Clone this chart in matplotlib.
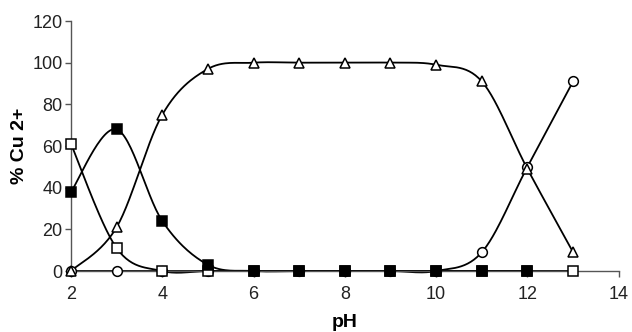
import numpy as np
import matplotlib
matplotlib.use("Agg")
import matplotlib.pyplot as plt

plt.rcParams['font.family'] = ['Liberation Sans', 'DejaVu Sans']

# pH values and % Cu2+ species
ph = [2, 3, 4, 5, 6, 7, 8, 9, 10, 11, 12, 13]
open_circle = [0, 0, 0, 0, 0, 0, 0, 0, 0, 9, 50, 91]
triangle = [0, 21, 75, 97, 100, 100, 100, 100, 99, 91, 49, 9]
open_square = [61, 11, 0, 0, 0, 0, 0, 0, 0, 0, 0, 0]
filled_square = [38, 68, 24, 3, 0, 0, 0, 0, 0, 0, 0]   # pH 2..12


def smooth(x, y, n=30):
    # Excel-style smoothed line (Catmull-Rom through the points)
    x = np.asarray(x, float)
    y = np.asarray(y, float)
    xs, ys = [], []
    for i in range(len(x) - 1):
        p0 = np.array([x[max(i - 1, 0)], y[max(i - 1, 0)]])
        p1 = np.array([x[i], y[i]])
        p2 = np.array([x[i + 1], y[i + 1]])
        p3 = np.array([x[min(i + 2, len(x) - 1)], y[min(i + 2, len(x) - 1)]])
        c1 = p1 + (p2 - p0) / 6
        c2 = p2 - (p3 - p1) / 6
        t = np.linspace(0, 1, n)[:, None]
        pts = ((1 - t) ** 3) * p1 + 3 * ((1 - t) ** 2) * t * c1 + 3 * (1 - t) * t ** 2 * c2 + t ** 3 * p2
        xs.extend(pts[:, 0])
        ys.extend(pts[:, 1])
    return xs, ys


fig = plt.figure(figsize=(6.32, 3.32), dpi=100)
ax = fig.add_axes([0.1123, 0.1837, 0.8667, 0.753])

series = [
    (ph, open_circle, 'o', 'white', 7),
    (ph, triangle, '^', 'white', 7.5),
    (ph, open_square, 's', 'white', 7.5),
    (ph[:len(filled_square)], filled_square, 's', 'black', 7.5),
]
for xv, vals, m, fc, ms in series:
    sx, sy = smooth(xv, vals)
    ax.plot(sx, sy, color='black', lw=1.3, zorder=2, clip_on=False)
    ax.plot(xv, vals, linestyle='none', marker=m, markersize=ms, clip_on=False,
            markerfacecolor=fc, markeredgecolor='black', markeredgewidth=1.1, zorder=3)

ax.set_xlim(2, 14)
ax.set_ylim(0, 120)
ax.set_xticks([2, 4, 6, 8, 10, 12, 14])
ax.set_yticks([0, 20, 40, 60, 80, 100, 120])
for s in ['top', 'right']:
    ax.spines[s].set_visible(False)
for s in ['left', 'bottom']:
    ax.spines[s].set_color('#555555')
    ax.spines[s].set_linewidth(1.0)
ax.tick_params(direction='out', length=4, width=1, color='#555555',
               labelsize=13, labelcolor='#222222')
ax.tick_params(axis='x', pad=7)
ax.tick_params(axis='y', pad=2)
ax.set_xlabel('pH', fontsize=14, fontweight='bold', labelpad=8)
ax.set_ylabel('% Cu 2+', fontsize=14, fontweight='bold', labelpad=3)

fig.savefig('out.png', dpi=100)
